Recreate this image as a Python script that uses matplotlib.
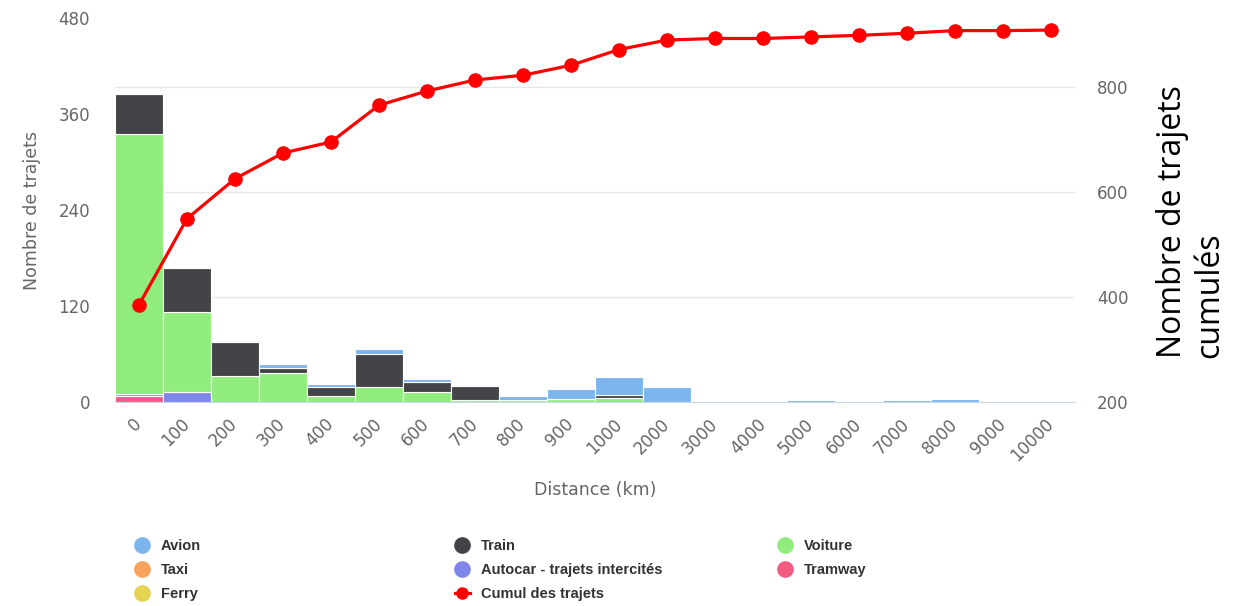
"""Histogramme des trajets par distance, avec cumul (out.png)."""

import matplotlib

matplotlib.use("Agg")
import matplotlib.pyplot as plt  # noqa: E402
import matplotlib.transforms as mtransforms  # noqa: E402
from matplotlib import font_manager  # noqa: E402
from matplotlib.lines import Line2D  # noqa: E402

GREY = "#666666"

distances = ["0", "100", "200", "300", "400", "500", "600", "700", "800", "900",
             "1000", "2000", "3000", "4000", "5000", "6000", "7000", "8000", "9000", "10000"]

# one list per mode, bottom of the stack last
avion = [0, 0, 0, 4, 3, 6, 4, 0, 5, 12, 22, 19, 0, 0, 3, 0, 3, 4, 0, 0]
train = [50, 55, 43, 7, 12, 41, 12, 17, 0, 0, 4, 0, 0, 0, 0, 0, 0, 0, 0, 0]
voiture = [325, 100, 32, 36, 7, 19, 13, 3, 3, 4, 5, 0, 0, 0, 0, 0, 0, 0, 0, 0]
taxi = [0] * 20
autocar = [3, 12, 0, 0, 0, 0, 0, 0, 0, 0, 0, 0, 0, 0, 0, 0, 0, 0, 0, 0]
tramway = [7, 0, 0, 0, 0, 0, 0, 0, 0, 0, 0, 0, 0, 0, 0, 0, 0, 0, 0, 0]
ferry = [0] * 20

cumul = [385, 549, 625, 674, 695, 765, 792, 813, 822, 841,
         871, 889, 892, 892, 895, 898, 902, 907, 907, 908]

left_ticks = [0, 120, 240, 360, 480]
right_ticks = [200, 400, 600, 800]

series = [  # bottom -> top
    ("Ferry", ferry, "#e4d354"),
    ("Tramway", tramway, "#f15c80"),
    ("Autocar - trajets intercités", autocar, "#8085e9"),
    ("Taxi", taxi, "#f7a35c"),
    ("Voiture", voiture, "#90ed7d"),
    ("Train", train, "#434348"),
    ("Avion", avion, "#7cb5ec"),
]
colors = {name: c for name, _, c in series}

fig = plt.figure(figsize=(12.46, 6.06), dpi=100)
ax = fig.add_axes([115 / 1246, 1 - 402 / 606, 960 / 1246, 384 / 606])
ax2 = ax.twinx()

x = list(range(len(distances)))
bottom = [0] * len(x)
for name, vals, color in series:
    ax.bar(x, vals, width=1.0, bottom=bottom, color=color, edgecolor="white", linewidth=0.8, zorder=2)
    bottom = [b + v for b, v in zip(bottom, vals)]

ax.set_xlim(-0.5, len(x) - 0.5)
ax.set_ylim(0, 480)
ax2.set_ylim(200, 931)

# grid follows the right axis but sits behind the bars
trans = mtransforms.blended_transform_factory(ax.transAxes, ax2.transData)
for v in right_ticks[1:]:
    ax.plot([0, 1], [v, v], transform=trans, color="#e6e6e6", lw=1, zorder=0)

ax2.plot(x, cumul, color="#ff0000", lw=2.3, marker="o", markersize=9.5, zorder=5)

for a in (ax, ax2):
    for s in a.spines.values():
        s.set_visible(False)
ax.spines["bottom"].set_visible(True)
ax.spines["bottom"].set_color("#ccd6eb")

ax.set_xticks(x)
ax.set_xticklabels(distances, rotation=45, ha="right", va="center", rotation_mode="anchor")
ax.tick_params(axis="x", length=0, pad=14, labelsize=12, labelcolor=GREY)
ax.set_yticks(left_ticks)
ax.tick_params(axis="y", length=0, pad=18, labelsize=12, labelcolor=GREY)
ax2.set_yticks(right_ticks)
ax2.tick_params(axis="y", length=0, pad=16, labelsize=12, labelcolor=GREY)

fig.text(32 / 1246, 1 - 210 / 606, "Nombre de trajets", rotation=90, ha="center", va="center",
         fontsize=12.5, color=GREY)
fig.text(595 / 1246, 1 - 490 / 606, "Distance (km)", ha="center", va="center", fontsize=12.5, color=GREY)
fig.text(1191 / 1246, 1 - 222 / 606, "Nombre de trajets\ncumulés", rotation=90, ha="center", va="center",
         multialignment="left", fontsize=23, family="Open Sans", color="black", linespacing=1.15)

# legend: three columns placed by hand
installed = {f.name for f in font_manager.fontManager.ttflist}
if "Liberation Sans Narrow" in installed:
    leg_font = dict(family="Liberation Sans Narrow", weight="bold", size=12)
else:
    leg_font = dict(family="Liberation Sans", weight="bold", size=10.5)


def dot(name):
    return Line2D([], [], ls="none", marker="o", markersize=11, color=colors[name])


cumul_handle = Line2D([], [], color="#ff0000", lw=2.3, marker="o", markersize=8)
columns = [
    (135, [(dot("Avion"), "Avion"), (dot("Taxi"), "Taxi"), (dot("Ferry"), "Ferry")]),
    (455, [(dot("Train"), "Train"), (dot("Autocar - trajets intercités"), "Autocar - trajets intercités"),
           (cumul_handle, "Cumul des trajets")]),
    (778, [(dot("Voiture"), "Voiture"), (dot("Tramway"), "Tramway")]),
]
for xpos, items in columns:
    leg = fig.legend([h for h, _ in items], [t for _, t in items], loc="upper left",
                     bbox_to_anchor=(xpos / 1246, 1 - 539 / 606), frameon=False, borderpad=0,
                     borderaxespad=0, handlelength=1.0, handletextpad=0.75, labelspacing=0.68,
                     prop=leg_font)
    for t in leg.get_texts():
        t.set_color("#333333")

fig.savefig("out.png", dpi=100)
